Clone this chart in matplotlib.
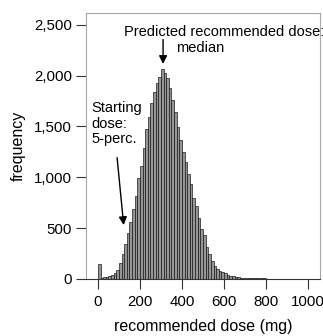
import numpy as np
import matplotlib
matplotlib.use("Agg")
import matplotlib.pyplot as plt
from matplotlib.ticker import FuncFormatter

plt.rcParams["font.family"] = ["Liberation Sans", "DejaVu Sans"]
plt.rcParams["font.size"] = 10.5

# histogram of recommended dose, bins of 12.5 mg starting at 0
bin_width = 12.5
counts = [
    150, 12, 18, 22, 28, 40, 55, 90, 160, 240,
    340, 450, 560, 690, 820, 990, 1110, 1290, 1470, 1590,
    1730, 1835, 1925, 1985, 2065, 2030, 1980, 1880, 1760, 1640,
    1490, 1370, 1250, 1150, 1030, 930, 800, 720, 600, 495,
    430, 315, 240, 175, 130, 98, 80, 63, 55, 40,
    30, 24, 20, 16, 13, 11, 9, 8, 7, 6,
    5, 5, 4, 6, 3, 3, 2, 2, 2, 1, 1,
]
edges = np.arange(len(counts) + 1) * bin_width

x_ticks = [0, 200, 400, 600, 800, 1000]
y_ticks = [0, 500, 1000, 1500, 2000, 2500]

fig = plt.figure(figsize=(3.23, 3.36), dpi=100)
ax = fig.add_axes([0.266, 0.170, 0.725, 0.792])

ax.hist(edges[:-1], bins=edges, weights=counts,
        facecolor="#959595", edgecolor="#1a1a1a", linewidth=0.5)

ax.set_xlim(-57, 1057)
ax.set_ylim(0, 2618)
ax.set_xticks(x_ticks)
ax.set_yticks(y_ticks)
ax.yaxis.set_major_formatter(FuncFormatter(lambda v, p: f"{int(v):,}"))
ax.tick_params(axis="both", direction="out", length=7.5, width=0.8,
               color="#333333", labelsize=10.8)
ax.tick_params(axis="y", pad=2.5)
ax.tick_params(axis="x", pad=4)

for side in ["top", "left", "right"]:
    ax.spines[side].set_color("#a8a8a8")
    ax.spines[side].set_linewidth(0.8)
ax.spines["bottom"].set_color("#333333")
ax.spines["bottom"].set_linewidth(0.8)

ax.set_xlabel("recommended dose (mg)", fontsize=11.5, labelpad=7.5)
ax.set_ylabel("frequency", fontsize=11.5, labelpad=6)

# median annotation
ax.text(124, 2431, "Predicted recommended dose:", fontsize=10.5,
        ha="left", va="center")
ax.text(370, 2274, "median", fontsize=10.5, ha="left", va="center")
ax.annotate("", xy=(310, 2087), xytext=(310, 2382),
            arrowprops=dict(arrowstyle="-|>", color="black", lw=1,
                            mutation_scale=12))

# 5th percentile annotation
ax.text(-33, 1526, "Starting\ndose:\n5-perc.", fontsize=10.5,
        ha="left", va="center", linespacing=1.15)
ax.annotate("", xy=(124, 502), xytext=(90, 1220),
            arrowprops=dict(arrowstyle="-|>", color="black", lw=1,
                            mutation_scale=12))

fig.savefig("out.png", dpi=100)
